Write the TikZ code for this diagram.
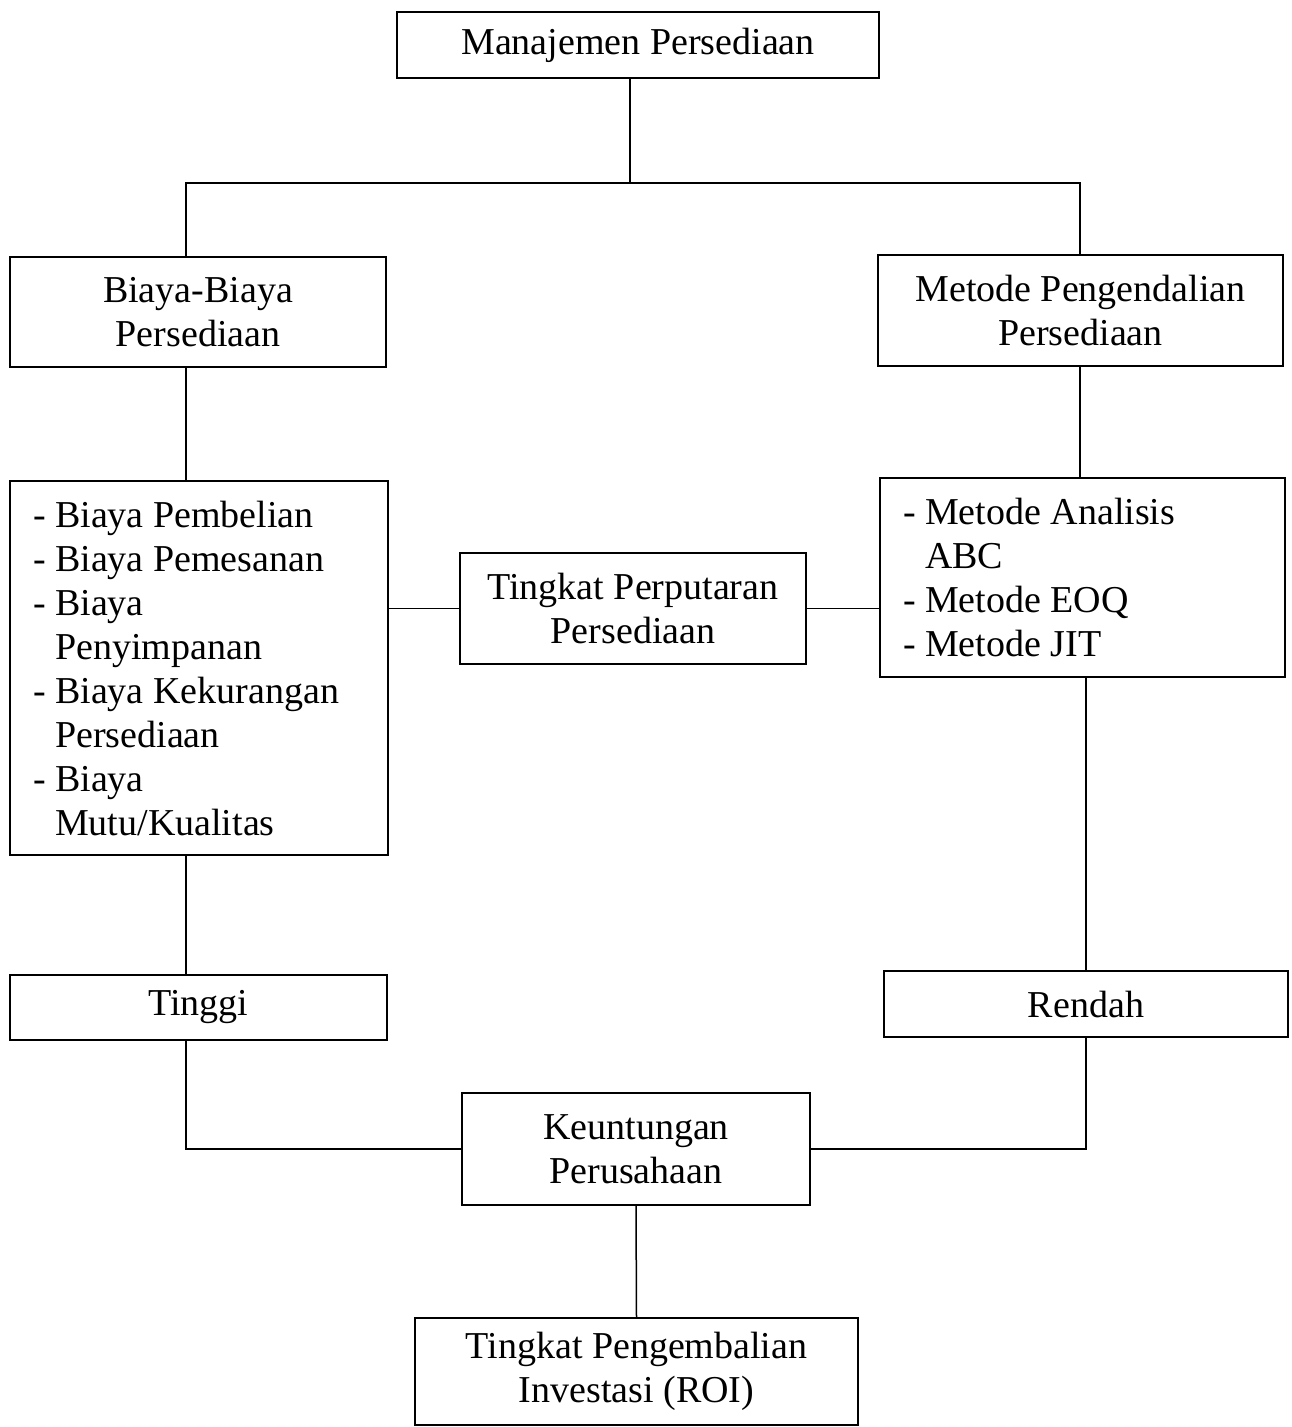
\documentclass[tikz,border=0pt]{standalone}
\usepackage{fontspec}
\setmainfont{Liberation Serif}
\begin{document}
\begin{tikzpicture}[x=1pt,y=-1pt,
  box/.style={draw=black,line width=1.9pt,rectangle,inner sep=0pt,align=center,
    font=\fontsize{38}{44}\selectfont},
  listbox/.style={draw=black,line width=1.9pt,rectangle,inner xsep=23pt,inner ysep=0pt,align=flush left,
    font=\fontsize{38}{44}\selectfont},
  conn/.style={draw=black,line width=1.5pt}]
\useasboundingbox (0,0) rectangle (1291,1427);
\fill[white] (0,0) rectangle (1291,1427);

\node[box,minimum width=482pt,minimum height=66pt] (top) at (638,45) {Manajemen Persediaan};
\node[box,minimum width=376pt,minimum height=110pt] (bb) at (198,312) {Biaya-Biaya\\Persediaan};
\node[box,minimum width=405pt,minimum height=111pt] (mp) at (1080.5,310.5) {Metode Pengendalian\\Persediaan};
\node[listbox,text width=332pt,minimum height=374pt] (bl) at (199,668)
  {- Biaya Pembelian\\- Biaya Pemesanan\\- Biaya\\\phantom{- }Penyimpanan\\- Biaya Kekurangan\\\phantom{- }Persediaan\\- Biaya\\\phantom{- }Mutu/Kualitas};
\node[listbox,text width=359pt,minimum height=199pt] (ml) at (1082.5,577.5)
  {- Metode Analisis\\\phantom{- }ABC\\- Metode EOQ\\- Metode JIT};
\node[box,minimum width=346pt,minimum height=111pt] (tp) at (633,608.5) {Tingkat Perputaran\\Persediaan};
\node[box,minimum width=377pt,minimum height=65pt] (ti) at (198.5,1007.5) {Tinggi};
\node[box,minimum width=404pt,minimum height=66pt] (re) at (1086,1004) {Rendah};
\node[box,minimum width=348pt,minimum height=112pt] (ku) at (636,1149) {Keuntungan\\Perusahaan};
\node[box,minimum width=443pt,minimum height=107pt] (roi) at (636.5,1371.5) {Tingkat Pengembalian\\Investasi (ROI)};

\coordinate (jm) at (630,183);
\coordinate (jl) at (186,183);
\coordinate (jr) at (1080,183);

\draw[conn] (top.south -| jm) -- (jm);
\draw[conn] (bb.north -| jl) -- (jl) -- (jr) -- (mp.north -| jr);
\draw[conn] (bb.south -| jl) -- (bl.north -| jl);
\draw[conn] (mp.south -| jr) -- (ml.north -| jr);
\draw[conn] (tp.west) -- (tp.west -| bl.east);
\draw[conn] (tp.east) -- (tp.east -| ml.west);
\draw[conn] (bl.south -| jl) -- (ti.north -| jl);
\draw[conn] (ml.south -| re.north) -- (re.north);
\draw[conn] (ti.south -| jl) |- (ku.west);
\draw[conn] (re.south) |- (ku.east);
\draw[conn] (ku.south) -- (roi.north);
\end{tikzpicture}
\end{document}
